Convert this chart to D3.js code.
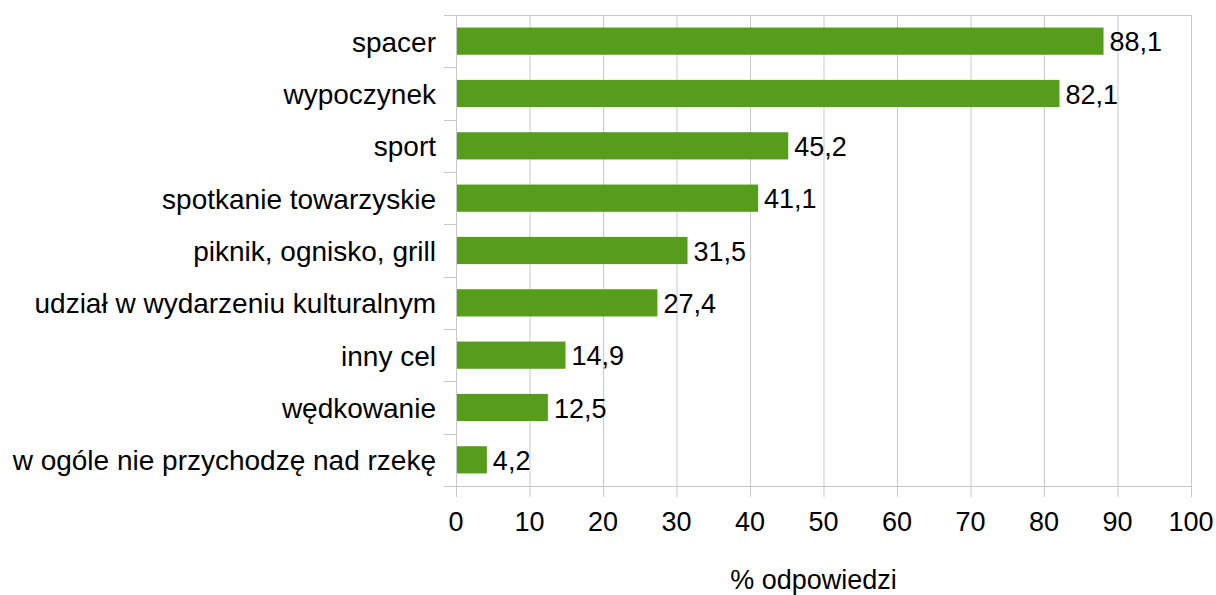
<!DOCTYPE html>
<html><head><meta charset="utf-8">
<script src="https://cdn.jsdelivr.net/npm/d3@7"></script>
<style>body{margin:0;background:#fff;} text{font-family:"Liberation Sans",Arial,sans-serif;}</style>
</head><body>
<svg id="c" width="1216" height="595"></svg>
<script>
const categories = ["spacer","wypoczynek","sport","spotkanie towarzyskie","piknik, ognisko, grill","udział w wydarzeniu kulturalnym","inny cel","wędkowanie","w ogóle nie przychodzę nad rzekę"];
const values = [88.1,82.1,45.2,41.1,31.5,27.4,14.9,12.5,4.2];
const xTicks = [0,10,20,30,40,50,60,70,80,90,100];
const axisTitle = "% odpowiedzi";

const svg = d3.select("#c");
const L=456, R=1191, T=15, B=486;
const FS = 27;
const x = d3.scaleLinear().domain([0,100]).range([L,R]);
const y = d3.scaleBand().domain(categories).range([T,B]).paddingInner(0.48).paddingOuter(0.24);
const grid = "#c8c8c8";

svg.append("g").selectAll("line").data(xTicks).join("line")
  .attr("x1",d=>x(d)+0.5).attr("x2",d=>x(d)+0.5).attr("y1",T).attr("y2",B+11)
  .attr("stroke",grid).attr("stroke-width",1);
svg.append("line").attr("x1",L).attr("x2",R+0.5).attr("y1",T+0.5).attr("y2",T+0.5).attr("stroke",grid);
svg.append("line").attr("x1",L-12).attr("x2",R+0.5).attr("y1",B+0.5).attr("y2",B+0.5).attr("stroke",grid);
const step = (B-T)/categories.length;
svg.append("g").selectAll("line").data(d3.range(categories.length+1)).join("line")
  .attr("x1",L-12).attr("x2",L).attr("y1",i=>Math.round(T+i*step)+0.5).attr("y2",i=>Math.round(T+i*step)+0.5)
  .attr("stroke",grid);

svg.append("g").selectAll("rect").data(values).join("rect")
  .attr("x",x(0)+1).attr("y",(d,i)=>y(categories[i]))
  .attr("width",d=>x(d)-x(0)-1).attr("height",y.bandwidth())
  .attr("fill","#579d1c");

svg.append("g").selectAll("text").data(values).join("text")
  .attr("x",d=>x(d)+6).attr("y",(d,i)=>y(categories[i])+y.bandwidth()/2+1)
  .attr("dominant-baseline","central").attr("font-size",FS).attr("fill","#000")
  .text(d=>d.toFixed(1).replace(".",","));

svg.append("g").selectAll("text").data(categories).join("text")
  .attr("x",L-20).attr("y",d=>y(d)+y.bandwidth()/2+1)
  .attr("text-anchor","end").attr("dominant-baseline","central").attr("font-size",28).attr("fill","#000")
  .text(d=>d);

svg.append("g").selectAll("text").data(xTicks).join("text")
  .attr("x",d=>x(d)).attr("y",522).attr("text-anchor","middle").attr("dominant-baseline","central")
  .attr("font-size",FS).attr("fill","#000").text(d=>d);

svg.append("text").attr("x",(L+R)/2-10).attr("y",580).attr("text-anchor","middle").attr("dominant-baseline","central")
  .attr("font-size",FS).attr("fill","#000").text(axisTitle);
</script>
</body></html>
